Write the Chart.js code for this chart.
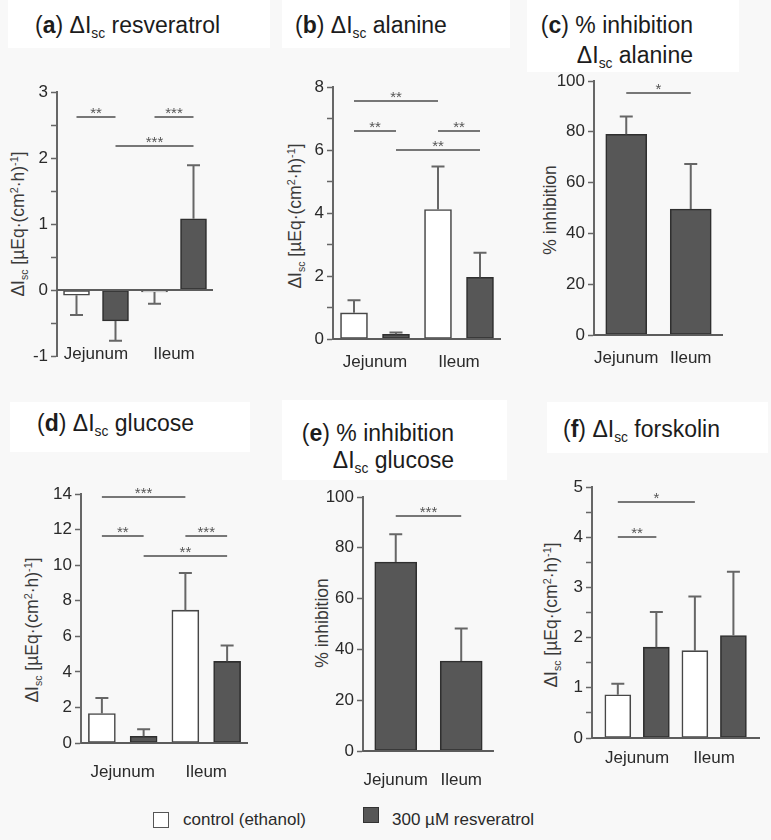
<!DOCTYPE html>
<html>
<head>
<meta charset="utf-8">
<script src="https://cdn.jsdelivr.net/npm/chart.js@4.4.1/dist/chart.umd.min.js"></script>
<style>
  body { margin: 0; background: #f8f8f8; font-family: "Liberation Sans", Arial, sans-serif; color: #222; }
  #fig { position: relative; width: 771px; height: 840px; overflow: hidden; }
  canvas { position: absolute; }
  .tbox { position: absolute; background: #fff; }
  .title { position: absolute; font-size: 23px; line-height: 30px; white-space: nowrap; color: #1c1c1c; }
  .title.right { text-align: right; width: 220px; }
  sub { font-size: 60%; vertical-align: baseline; position: relative; top: 0.35em; }
  sup { font-size: 62%; vertical-align: baseline; position: relative; top: -0.55em; }
  .ytitle { position: absolute; width: 220px; height: 20px; line-height: 20px; text-align: center;
            font-size: 17.5px; color: #3a3a3a; transform: rotate(-90deg); white-space: nowrap; }
  .legbox { position: absolute; width: 16px; height: 16px; box-sizing: border-box; }
  .legtxt { position: absolute; font-size: 17px; line-height: 20px; color: #2a2a2a; white-space: nowrap; }
</style>
</head>
<body>
<div id="fig">
  <div class="tbox" style="left:8px;top:0;width:262px;height:48px"></div>
  <div class="tbox" style="left:282px;top:0;width:228px;height:48px"></div>
  <div class="tbox" style="left:527px;top:0;width:212px;height:72px"></div>
  <div class="tbox" style="left:10px;top:402px;width:240px;height:50px"></div>
  <div class="tbox" style="left:282px;top:400px;width:225px;height:80px"></div>
  <div class="tbox" style="left:547px;top:402px;width:221px;height:51px"></div>

  <div class="title" style="left:35px;top:10px">(<b>a</b>) ΔI<sub>sc</sub> resveratrol</div>
  <div class="title" style="left:295px;top:10px">(<b>b</b>) ΔI<sub>sc</sub> alanine</div>
  <div class="title right" style="left:473px;top:10px">(<b>c</b>) % inhibition<br>ΔI<sub>sc</sub> alanine</div>
  <div class="title" style="left:37px;top:408px">(<b>d</b>) ΔI<sub>sc</sub> glucose</div>
  <div class="title right" style="left:234px;top:420px;line-height:27px">(<b>e</b>) % inhibition<br>ΔI<sub>sc</sub> glucose</div>
  <div class="title" style="left:563px;top:414px">(<b>f</b>) ΔI<sub>sc</sub> forskolin</div>

  <div class="ytitle" style="left:-92px;top:214px">ΔI<sub>sc</sub> [µEq·(cm<sup>2</sup>·h)<sup>-1</sup>]</div>
  <div class="ytitle" style="left:185px;top:206px">ΔI<sub>sc</sub> [µEq·(cm<sup>2</sup>·h)<sup>-1</sup>]</div>
  <div class="ytitle" style="left:440px;top:200px">% inhibition</div>
  <div class="ytitle" style="left:-78px;top:620px">ΔI<sub>sc</sub> [µEq·(cm<sup>2</sup>·h)<sup>-1</sup>]</div>
  <div class="ytitle" style="left:212px;top:613px">% inhibition</div>
  <div class="ytitle" style="left:441px;top:605px">ΔI<sub>sc</sub> [µEq·(cm<sup>2</sup>·h)<sup>-1</sup>]</div>

  <div class="legbox" style="left:153px;top:812px;background:#fff;border:1.5px solid #555"></div>
  <div class="legtxt" id="leg0" style="left:183px;top:810px"></div>
  <div class="legbox" style="left:363px;top:807px;background:#575757;border:1.5px solid #333"></div>
  <div class="legtxt" id="leg1" style="left:392px;top:810px"></div>
</div>
<script>
const FONT = '"Liberation Sans", Arial, sans-serif';

const categories = ['Jejunum', 'Ileum'];
const seriesNames = ['control (ethanol)', '300 µM resveratrol'];

// (a) ΔIsc resveratrol
const resvCtrl = [-0.08, -0.03];
const resvCtrlErr = [0.30, 0.18];
const resvTreat = [-0.47, 1.08];
const resvTreatErr = [0.30, 0.81];
const resvTicks = [-1, 0, 1, 2, 3];
const resvSig = [[0, 1, 2.62, '**'], [2, 3, 2.62, '***'], [1, 3, 2.18, '***']];

// (b) ΔIsc alanine
const alaCtrl = [0.83, 4.11];
const alaCtrlErr = [0.40, 1.37];
const alaTreat = [0.15, 1.96];
const alaTreatErr = [0.06, 0.78];
const alaTicks = [0, 2, 4, 6, 8];
const alaSig = [[0, 2, 7.54, '**'], [0, 1, 6.61, '**'], [2, 3, 6.61, '**'], [1, 3, 6.01, '**']];

// (c) % inhibition ΔIsc alanine
const alaInhib = [79.0, 49.6];
const alaInhibErr = [7.0, 17.7];
const inhibTicks = [0, 20, 40, 60, 80, 100];
const alaInhibSig = [[0, 1, 95.2, '*']];

// (d) ΔIsc glucose
const gluCtrl = [1.66, 7.47];
const gluCtrlErr = [0.87, 2.09];
const gluTreat = [0.38, 4.59];
const gluTreatErr = [0.40, 0.89];
const gluTicks = [0, 2, 4, 6, 8, 10, 12, 14];
const gluSig = [[0, 2, 13.81, '***'], [0, 1, 11.62, '**'], [2, 3, 11.62, '***'], [1, 3, 10.52, '**']];

// (e) % inhibition ΔIsc glucose
const gluInhib = [74.4, 35.4];
const gluInhibErr = [10.9, 12.8];
const gluInhibSig = [[0, 1, 92.5, '***']];

// (f) ΔIsc forskolin
const forsCtrl = [0.86, 1.74];
const forsCtrlErr = [0.22, 1.08];
const forsTreat = [1.81, 2.04];
const forsTreatErr = [0.70, 1.27];
const forsTicks = [0, 1, 2, 3, 4, 5];
const forsSig = [[0, 2, 4.71, '*'], [0, 1, 4.0, '**']];

document.getElementById('leg0').textContent = seriesNames[0];
document.getElementById('leg1').textContent = seriesNames[1];

// bar x position = bar index (control Jej, treated Jej, control Ile, treated Ile)
function pairedSets(ctrl, ctrlErr, treat, treatErr) {
  return [
    { label: seriesNames[0], data: ctrl.map((v, i) => ({ x: i * 2, y: v })), errors: ctrlErr,
      backgroundColor: '#ffffff', borderColor: '#474747' },
    { label: seriesNames[1], data: treat.map((v, i) => ({ x: i * 2 + 1, y: v })), errors: treatErr,
      backgroundColor: '#575757', borderColor: '#2f2f2f' }
  ];
}
function singleSet(vals, errs) {
  return [{ label: seriesNames[1], data: vals.map((v, i) => ({ x: i, y: v })), errors: errs,
            backgroundColor: '#575757', borderColor: '#2f2f2f' }];
}

const panels = [
  { id: 'a', sets: pairedSets(resvCtrl, resvCtrlErr, resvTreat, resvTreatErr), sig: resvSig, ticks: resvTicks, minor: 0.5,
    groupX: [0.5, 2.5], axisX: 57, top: 92, bottom: 356, right: 213, xMin: -0.5, xMax: 3.5, barW: 26, labelPad: -9, mirror: true },
  { id: 'b', sets: pairedSets(alaCtrl, alaCtrlErr, alaTreat, alaTreatErr), sig: alaSig, ticks: alaTicks, minor: 1,
    groupX: [0.5, 2.5], axisX: 333, top: 87, bottom: 339, right: 501, xMin: -0.5, xMax: 3.5, barW: 27, labelPad: 13 },
  { id: 'c', sets: singleSet(alaInhib, alaInhibErr), sig: alaInhibSig, ticks: inhibTicks,
    groupX: [0, 1], axisX: 594, top: 81, bottom: 335, right: 723, xMin: -0.5, xMax: 1.5, barW: 41, labelPad: 13 },
  { id: 'd', sets: pairedSets(gluCtrl, gluCtrlErr, gluTreat, gluTreatErr), sig: gluSig, ticks: gluTicks,
    groupX: [0.5, 2.5], axisX: 81, top: 494, bottom: 743, right: 248, xMin: -0.5, xMax: 3.5, barW: 27, labelPad: 19 },
  { id: 'e', sets: singleSet(gluInhib, gluInhibErr), sig: gluInhibSig, ticks: inhibTicks,
    groupX: [0, 1], axisX: 363, top: 497, bottom: 751, right: 495, xMin: -0.5, xMax: 1.5, barW: 42, labelPad: 19 },
  { id: 'f', sets: pairedSets(forsCtrl, forsCtrlErr, forsTreat, forsTreatErr), sig: forsSig, ticks: forsTicks, minor: 0.5,
    groupX: [0.5, 2.5], axisX: 592, top: 487, bottom: 738, right: 760, xMin: -0.67, xMax: 3.69, barW: 26, labelPad: 10 }
];

const errorBars = {
  id: 'errorBars',
  afterDatasetsDraw(chart) {
    const ctx = chart.ctx, y = chart.scales.y;
    ctx.save();
    ctx.strokeStyle = '#666';
    ctx.lineWidth = 2;
    chart.data.datasets.forEach((ds, di) => {
      chart.getDatasetMeta(di).data.forEach((bar, i) => {
        const v = ds.data[i].y, e = ds.errors[i];
        const end = y.getPixelForValue(v < 0 ? v - e : v + e);
        ctx.beginPath();
        ctx.moveTo(bar.x, bar.y);
        ctx.lineTo(bar.x, end);
        ctx.moveTo(bar.x - 6.5, end);
        ctx.lineTo(bar.x + 6.5, end);
        ctx.stroke();
      });
    });
    ctx.restore();
  }
};

function extras(p) {
  return {
    id: 'extras',
    afterDatasetsDraw(chart) {
      const { ctx, chartArea: a, scales: { x, y } } = chart;
      ctx.save();
      // zero line / x axis
      const y0 = Math.round(y.getPixelForValue(0));
      ctx.strokeStyle = '#5c5c5c';
      ctx.lineWidth = 2;
      ctx.beginPath();
      ctx.moveTo(a.left, y0);
      ctx.lineTo(a.right, y0);
      ctx.stroke();
      // significance lines
      ctx.strokeStyle = '#777';
      ctx.fillStyle = '#555';
      ctx.font = '15px ' + FONT;
      ctx.textAlign = 'center';
      ctx.textBaseline = 'alphabetic';
      p.sig.forEach(([i, j, v, label]) => {
        const x1 = x.getPixelForValue(i), x2 = x.getPixelForValue(j);
        const py = Math.round(y.getPixelForValue(v));
        ctx.beginPath();
        ctx.moveTo(x1, py);
        ctx.lineTo(x2, py);
        ctx.stroke();
        ctx.fillText(label, (x1 + x2) / 2, py + 1);
      });
      ctx.restore();
    }
  };
}

const fig = document.getElementById('fig');
const padTop = 22, padRight = 8, yW = 50, xH = 45;

panels.forEach(p => {
  const c = document.createElement('canvas');
  c.width = yW + (p.right - p.axisX) + padRight;
  c.height = padTop + (p.bottom - p.top) + xH;
  c.style.left = (p.axisX - yW) + 'px';
  c.style.top = (p.top - padTop) + 'px';
  fig.appendChild(c);

  const t = p.ticks;
  const major = t[1] - t[0];
  p.sets.forEach(ds => {
    ds.barThickness = p.barW;
    ds.borderWidth = 1.6;
    ds.borderSkipped = false;
    ds.grouped = false;
  });

  new Chart(c, {
    type: 'bar',
    data: { datasets: p.sets },
    options: {
      responsive: false,
      animation: false,
      devicePixelRatio: 1,
      layout: { padding: { top: padTop, right: padRight, left: 0, bottom: 0 }, autoPadding: false },
      plugins: { legend: { display: false }, tooltip: { enabled: false } },
      scales: {
        x: {
          type: 'linear', min: p.xMin, max: p.xMax, offset: false,
          grid: { display: false, drawTicks: false },
          border: { display: false },
          afterBuildTicks: s => { s.ticks = p.groupX.map(v => ({ value: v })); },
          afterFit: s => { s.height = xH; },
          ticks: { font: { size: 17, family: FONT }, color: '#2a2a2a', padding: p.labelPad, mirror: !!p.mirror,
                   maxRotation: 0, autoSkip: false, callback: (v, i) => categories[i] }
        },
        y: {
          min: t[0], max: t[t.length - 1],
          afterFit: s => { s.width = yW; },
          ticks: { stepSize: p.minor || major, font: { size: 17, family: FONT }, color: '#2a2a2a', padding: 3,
                   callback: v => (Math.abs(v / major - Math.round(v / major)) < 1e-6 ? v : '') },
          grid: { drawOnChartArea: false, tickLength: 6, tickColor: '#666', tickWidth: 1.5 },
          border: { display: true, color: '#666', width: 2 }
        }
      }
    },
    plugins: [errorBars, extras(p)]
  });
});
</script>
</body>
</html>
